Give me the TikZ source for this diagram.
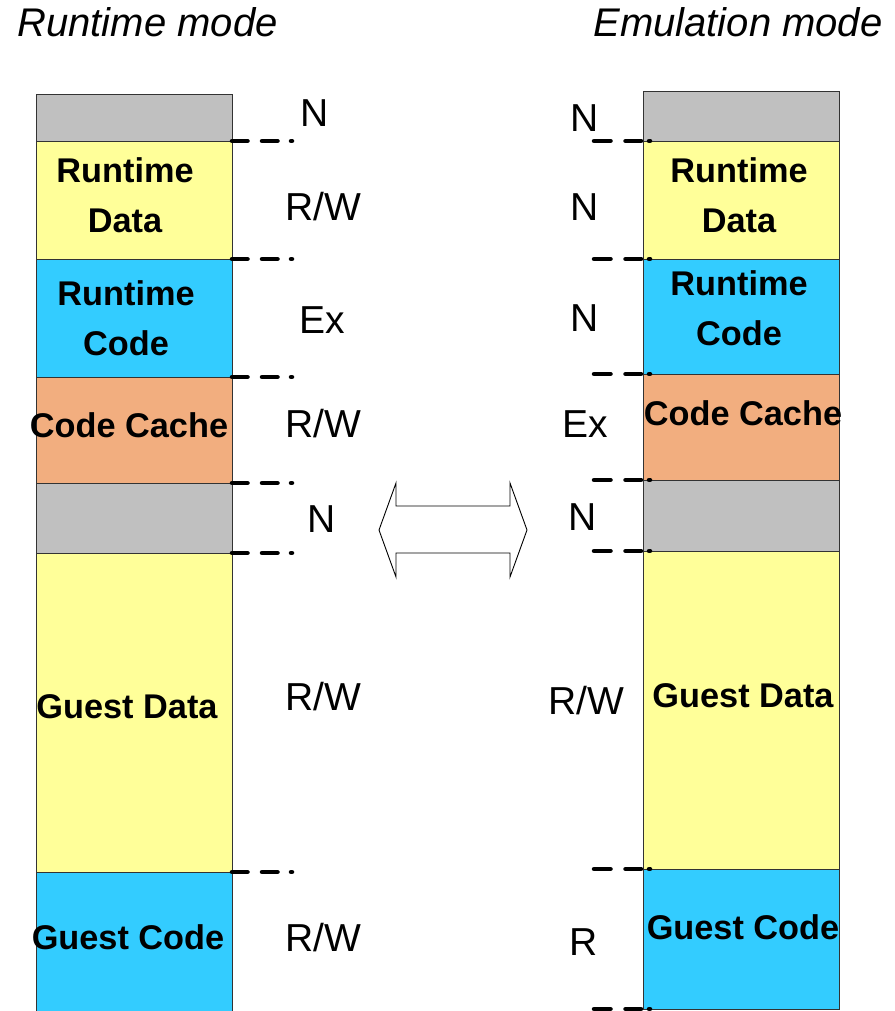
\documentclass[tikz,border=0pt]{standalone}
\usepackage{fontspec}
\setmainfont{Liberation Sans}
\definecolor{cgray}{HTML}{C0C0C0}
\definecolor{cyel}{HTML}{FFFF99}
\definecolor{cblue}{HTML}{33CCFF}
\definecolor{corange}{HTML}{F2AE7F}
\begin{document}
\begin{tikzpicture}[x=1pt,y=-1pt,
  blk/.style={draw=black!80,line width=0.8pt,minimum width=196pt,inner sep=0pt,outer sep=0pt,anchor=north west},
  blabel/.style={font=\fontsize{34.3}{50}\selectfont\bfseries,align=center,inner sep=0pt},
  acc/.style={font=\fontsize{39}{44}\selectfont,inner sep=0pt},
  ttl/.style={font=\fontsize{40}{48}\selectfont\itshape,inner sep=0pt},
  dl/.style={line width=4.5pt,line cap=round,dash pattern=on 15.5pt off 14.5pt on 15.5pt off 13.5pt on 1pt off 100pt},
  dr/.style={line width=4.5pt,line cap=round,dash pattern=on 1pt off 8pt on 15.5pt off 15pt on 16.5pt off 100pt}]
\clip (0,0) rectangle (894,1011);
% titles
\node[ttl] (t1) at (147.5,22) {Runtime mode};
\node[ttl] (t2) at (738,22) {Emulation mode};
% left column
\node[blk,fill=cgray,minimum height=47pt] (l0) at (36,94) {};
\node[blk,fill=cyel,minimum height=118pt] (l1) at (36,141) {};
\node[blk,fill=cblue,minimum height=118pt] (l2) at (36,259) {};
\node[blk,fill=corange,minimum height=106pt] (l3) at (36,377) {};
\node[blk,fill=cgray,minimum height=70pt] (l4) at (36,483) {};
\node[blk,fill=cyel,minimum height=319pt] (l5) at (36,553) {};
\node[blk,fill=cblue,minimum height=160pt] (l6) at (36,872) {};
\node[blabel] (lt1) at (125,195) {Runtime\\Data};
\node[blabel] (lt2) at (126,318) {Runtime\\Code};
\node[blabel] (lt3) at (129,425) {Code Cache};
\node[blabel] (lt5) at (127,707) {Guest Data};
\node[blabel] (lt6) at (128,937) {Guest Code};
% right column
\node[blk,fill=cgray,minimum height=50pt] (r0) at (643,91) {};
\node[blk,fill=cyel,minimum height=118pt] (r1) at (643,141) {};
\node[blk,fill=cblue,minimum height=115pt] (r2) at (643,259) {};
\node[blk,fill=corange,minimum height=106pt] (r3) at (643,374) {};
\node[blk,fill=cgray,minimum height=71pt] (r4) at (643,480) {};
\node[blk,fill=cyel,minimum height=318pt] (r5) at (643,551) {};
\node[blk,fill=cblue,minimum height=140pt] (r6) at (643,869) {};
\node[blabel] (rt1) at (739,195) {Runtime\\Data};
\node[blabel] (rt2) at (739,308) {Runtime\\Code};
\node[blabel] (rt3) at (743,413) {Code Cache};
\node[blabel] (rt5) at (743,696) {Guest Data};
\node[blabel] (rt6) at (743,927) {Guest Code};
% left dashed boundaries
\foreach \n in {l0,l1,l2,l3,l4,l5}{
  \draw[dl] (\n.south east) -- +(64,0);
}
% right dashed boundaries
\foreach \n in {r0,r1,r2,r3,r4,r5,r6}{
  \draw[dr] ([xshift=7pt]\n.south west) -- +(-59,0);
}
% left access labels
\node[acc] (la0) at (315,113) {N};
\node[acc] (la1) at (323,207) {R/W};
\node[acc] (la2) at (322,320) {Ex};
\node[acc] (la3) at (323,424) {R/W};
\node[acc] (la4) at (322,519) {N};
\node[acc] (la5) at (323,697) {R/W};
\node[acc] (la6) at (323,938) {R/W};
% right access labels
\node[acc] (ra0) at (585,118) {N};
\node[acc] (ra1) at (585,207) {N};
\node[acc] (ra2) at (585,318) {N};
\node[acc] (ra3) at (585,424) {Ex};
\node[acc] (ra4) at (583,517) {N};
\node[acc] (ra5) at (586,701) {R/W};
\node[acc] (ra6) at (584,942) {R};
% double arrow
\draw[line width=0.9pt,fill=white,line join=miter] (379,530) -- (396,483) -- (396,506) -- (510,506) -- (510,483) -- (527,530) -- (510,577) -- (510,553) -- (396,553) -- (396,577) -- cycle;
\end{tikzpicture}
\end{document}
